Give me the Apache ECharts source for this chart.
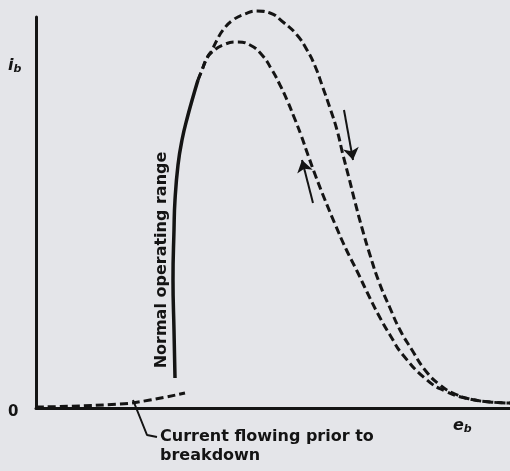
<!DOCTYPE html>
<html>
<head>
<meta charset="utf-8">
<script src="https://cdn.jsdelivr.net/npm/echarts@6/dist/echarts.min.js"></script>
<style>
  html, body { margin: 0; padding: 0; background: #e4e5e9; }
  #chart { width: 510px; height: 471px; }
</style>
</head>
<body>
<div id="chart"></div>
<script>
var chart = echarts.init(document.getElementById('chart'));
var ink = '#141414';
var font = 'DejaVu Sans';

// curve points [eb, ib] (arbitrary units)
var normalRange = [[139, 30], [138, 78], [137, 128], [138, 178], [139, 208], [142, 243], [146, 268],
  [152, 293], [157, 311], [162, 328]];
var outer = [[162, 328], [166, 338], [171, 350], [176, 358], [181, 368], [187, 378], [197, 388], [209, 394],
  [221, 397], [234, 395], [247, 386], [261, 373], [271, 358], [279, 342], [287, 320], [294, 300], [301, 278],
  [307, 253], [313, 230], [319, 206], [326, 180], [334, 153], [343, 126], [354, 100], [364, 78], [376, 58],
  [389, 38], [404, 23], [419, 14], [434, 9], [454, 6], [474, 5]];
var inner = [[162, 328], [166, 338], [171, 350], [176, 356], [187, 363], [201, 366], [214, 363], [226, 353],
  [236, 338], [244, 323], [251, 308], [258, 291], [265, 273], [272, 253], [280, 231], [289, 208], [299, 184],
  [310, 159], [321, 137], [331, 116], [342, 94], [354, 73], [367, 53], [391, 28], [409, 17], [429, 10],
  [454, 6], [474, 5]];
var preBreakdown = [[0, 1], [84, 4], [114, 8], [149, 15]];
var arrowDown = [[308, 298], [317, 248]];
var arrowUp = [[277, 205], [266, 248]];
var leader = [[97, 8], [111, -27], [121, -29]];

function dashed(name, data) {
  return {
    name: name, type: 'line', data: data, smooth: 0.5, symbol: 'none', clip: false,
    lineStyle: { color: ink, width: 3, type: [8, 4] }
  };
}
function solid(name, data, w, smooth) {
  return {
    name: name, type: 'line', data: data, smooth: smooth, symbol: 'none', clip: false,
    lineStyle: { color: ink, width: w }
  };
}
function arrow(name, pts) {
  return {
    name: name, type: 'lines', coordinateSystem: 'cartesian2d', clip: false,
    symbol: ['none', 'arrow'], symbolSize: [7, 12],
    lineStyle: { color: ink, width: 2, opacity: 1 },
    data: [{ coords: pts }]
  };
}
var sub = {
  i: { font: 'italic bold 16px ' + font, fill: ink },
  s: { font: 'italic bold 11px ' + font, fill: ink, padding: [6, 0, 0, 0] }
};

option = {
  backgroundColor: '#e4e5e9',
  animation: false,
  grid: { left: 36, top: 17, right: 0, bottom: 63 },
  xAxis: {
    type: 'value', min: 0, max: 474,
    axisLine: { show: true, lineStyle: { color: ink, width: 3 } },
    axisTick: { show: false }, axisLabel: { show: false }, splitLine: { show: false }
  },
  yAxis: {
    type: 'value', min: 0, max: 391,
    axisLine: { show: true, lineStyle: { color: ink, width: 3 } },
    axisTick: { show: false }, axisLabel: { show: false }, splitLine: { show: false }
  },
  graphic: [
    { type: 'text', left: 8, top: 405, style: { text: '0', font: 'bold 15px ' + font, fill: ink } },
    { type: 'text', left: 8, top: 58, style: { text: '{i|i}{s|b}', rich: sub } },
    { type: 'text', left: 453, top: 418, style: { text: '{i|e}{s|b}', rich: sub } },
    {
      type: 'text', x: 162, y: 260, rotation: Math.PI / 2,
      style: {
        text: 'Normal operating range', font: 'bold 16px ' + font, fill: ink,
        align: 'center', verticalAlign: 'middle'
      }
    },
    {
      type: 'text', left: 160, top: 427,
      style: {
        text: 'Current flowing prior to\nbreakdown', font: 'bold 16px ' + font, fill: ink,
        lineHeight: 19
      }
    }
  ],
  series: [
    dashed('pre-breakdown', preBreakdown),
    solid('leader', leader, 2, false),
    solid('normal range', normalRange, 3.5, 0.5),
    dashed('outer', outer),
    dashed('inner', inner),
    arrow('down', arrowDown),
    arrow('up', arrowUp)
  ]
};

chart.setOption(option);
</script>
</body>
</html>
